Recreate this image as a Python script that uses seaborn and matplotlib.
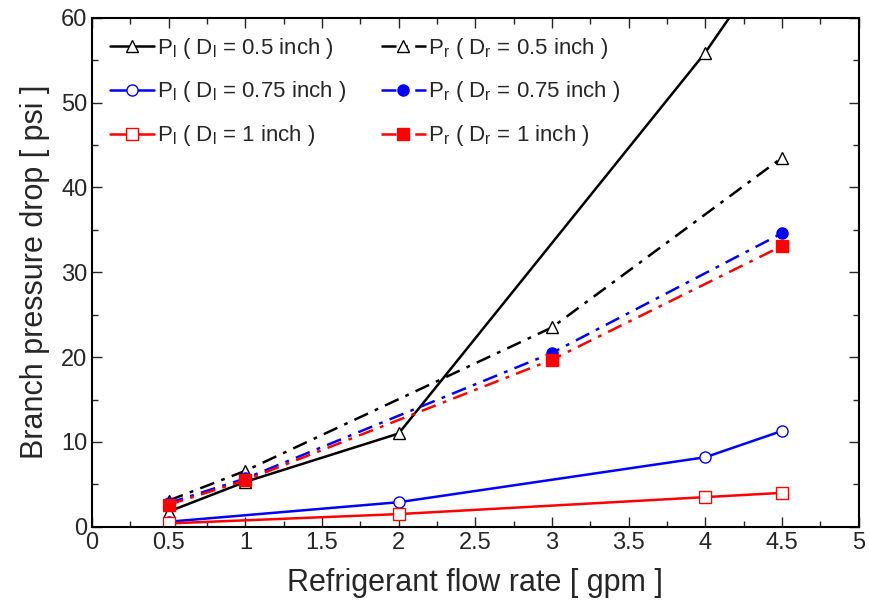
import matplotlib
matplotlib.use("Agg")
import matplotlib.pyplot as plt
from matplotlib.ticker import MultipleLocator
import seaborn as sns
import pandas as pd

# Data
x_l05 = [0.5, 1, 2, 4, 4.5]
pl_05 = [1.8, 5.3, 11.0, 55.9, 69.0]
x_l075 = [0.5, 2, 4, 4.5]
pl_075 = [0.6, 2.9, 8.2, 11.3]
x_l1 = [0.5, 2, 4, 4.5]
pl_1 = [0.4, 1.5, 3.5, 4.0]
x_r = [0.5, 1, 3, 4.5]
pr_05 = [3.1, 6.6, 23.5, 43.5]
pr_075 = [2.8, 5.7, 20.5, 34.6]
pr_1 = [2.6, 5.5, 19.7, 33.1]

labels = [
    r"$\mathrm{P_l}$ ( $\mathrm{D_l}$ = 0.5 inch )",
    r"$\mathrm{P_l}$ ( $\mathrm{D_l}$ = 0.75 inch )",
    r"$\mathrm{P_l}$ ( $\mathrm{D_l}$ = 1 inch )",
    r"$\mathrm{P_r}$ ( $\mathrm{D_r}$ = 0.5 inch )",
    r"$\mathrm{P_r}$ ( $\mathrm{D_r}$ = 0.75 inch )",
    r"$\mathrm{P_r}$ ( $\mathrm{D_r}$ = 1 inch )",
]

sns.set_style("ticks")
plt.rcParams["font.family"] = ["Liberation Sans", "DejaVu Sans"]
plt.rcParams["mathtext.fontset"] = "custom"
plt.rcParams["mathtext.rm"] = "Liberation Sans"
plt.rcParams["mathtext.it"] = "Liberation Sans:italic"

fig, ax = plt.subplots(figsize=(8.69, 6.14), dpi=100)
fig.subplots_adjust(left=0.106, right=0.988, top=0.971, bottom=0.142)

dash = (0, (6, 3, 1.5, 3))
series = [
    (x_l05, pl_05, labels[0], "black", "^", "white", "-"),
    (x_l075, pl_075, labels[1], "blue", "o", "white", "-"),
    (x_l1, pl_1, labels[2], "red", "s", "white", "-"),
    (x_r, pr_05, labels[3], "black", "^", "white", dash),
    (x_r, pr_075, labels[4], "blue", "o", "blue", dash),
    (x_r, pr_1, labels[5], "red", "s", "red", dash),
]
for xs, ys, lab, c, m, fc, ls in series:
    df = pd.DataFrame({"x": xs, "y": ys})
    sns.lineplot(data=df, x="x", y="y", ax=ax, color=c, marker=m, markersize=8,
                 markerfacecolor=fc, markeredgecolor=c, markeredgewidth=1.0,
                 linestyle=ls, linewidth=1.8, label=lab, clip_on=True)

ax.set_xlim(0, 5)
ax.set_ylim(0, 60)
ax.xaxis.set_major_locator(MultipleLocator(0.5))
ax.xaxis.set_minor_locator(MultipleLocator(0.25))
ax.yaxis.set_major_locator(MultipleLocator(10))
ax.yaxis.set_minor_locator(MultipleLocator(5))
ax.set_xticklabels([f"{v:g}" for v in ax.get_xticks()])
ax.tick_params(which="both", direction="in", top=True, right=True, labelsize=17, width=1.0)
ax.tick_params(which="major", length=7)
ax.tick_params(which="minor", length=4)
for s in ax.spines.values():
    s.set_linewidth(1.5)
    s.set_color("black")
ax.set_xlabel("Refrigerant flow rate [ gpm ]", fontsize=22, labelpad=10)
ax.set_ylabel("Branch pressure drop [ psi ]", fontsize=22, labelpad=8)

ax.legend(loc="upper left", ncol=2, frameon=False, fontsize=16, handlelength=2.0,
          handletextpad=0.1, columnspacing=1.6, labelspacing=0.85, borderaxespad=0.5,
          borderpad=0.3)

fig.savefig("out.png", dpi=100)
